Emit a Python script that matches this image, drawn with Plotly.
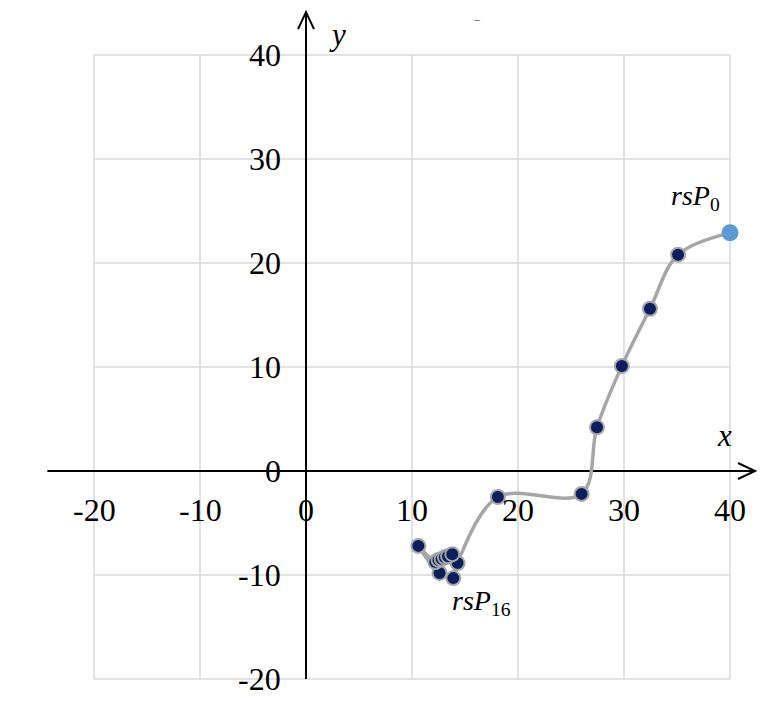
import plotly.graph_objects as go

# ---- data ----
point_names = [f"rsP{i}" for i in range(17)]
x_vals = [40.0, 35.1, 32.45, 29.8, 27.45, 26.0, 18.1, 14.3, 13.9, 12.6, 10.6, 12.2, 12.5, 12.8, 13.1, 13.4, 13.8]
y_vals = [22.9, 20.8, 15.6, 10.1, 4.2, -2.2, -2.5, -8.85, -10.3, -9.8, -7.2, -8.75, -8.55, -8.45, -8.3, -8.2, -8.0]
x_ticks = [-20, -10, 0, 10, 20, 30, 40]
y_ticks = [-20, -10, 0, 10, 20, 30, 40]
x_tick_labels = ["-20", "-10", "0", "10", "20", "30", "40"]
y_tick_labels = ["-20", "-10", "0", "10", "20", "30", "40"]

FONT = "Liberation Serif, Times New Roman, serif"
fig = go.Figure()

# axis lines
X_MIN, X_MAX = -24.4, 42.36
Y_MIN, Y_MAX = -20.0, 44.13

fig.add_trace(go.Scatter(
    x=x_vals, y=y_vals, mode="lines+markers",
    line=dict(color="#A6A6A6", width=3.5, shape="spline", smoothing=1.0),
    marker=dict(size=14, color="#0B1F5E", line=dict(color="#A6A6A6", width=2)),
    hoverinfo="text", text=point_names, showlegend=False, cliponaxis=False,
))
fig.add_trace(go.Scatter(
    x=[x_vals[0]], y=[y_vals[0]], mode="markers",
    marker=dict(size=17, color="#5B9BD5", line=dict(width=0)),
    hoverinfo="text", text=[point_names[0]], showlegend=False, cliponaxis=False,
))

shapes = []
for xt in x_ticks:
    shapes.append(dict(type="line", xref="x", yref="y", x0=xt, x1=xt,
                       y0=min(y_ticks), y1=max(y_ticks),
                       line=dict(color="#D9D9D9", width=1.5), layer="below"))
for yt in y_ticks:
    shapes.append(dict(type="line", xref="x", yref="y", y0=yt, y1=yt,
                       x0=min(x_ticks), x1=max(x_ticks),
                       line=dict(color="#D9D9D9", width=1.5), layer="below"))
shapes.append(dict(type="line", xref="x", yref="y", x0=X_MIN, x1=X_MAX, y0=0, y1=0,
                   line=dict(color="black", width=2), layer="below"))
shapes.append(dict(type="line", xref="x", yref="y", x0=0, x1=0, y0=Y_MIN, y1=Y_MAX,
                   line=dict(color="black", width=2), layer="below"))
# arrowheads (pixel sized chevrons)
shapes.append(dict(type="path", xref="x", yref="y", xsizemode="pixel", ysizemode="pixel",
                   xanchor=X_MAX, yanchor=0, path="M -17 -8 L 0 0 L -17 8",
                   line=dict(color="black", width=2), layer="below"))
shapes.append(dict(type="path", xref="x", yref="y", xsizemode="pixel", ysizemode="pixel",
                   xanchor=0, yanchor=Y_MAX, path="M -8 -17 L 0 0 L 8 -17",
                   line=dict(color="black", width=2), layer="below"))

ann = []
tick_font = dict(family=FONT, size=32, color="black")
for xt, lab in zip(x_ticks, x_tick_labels):
    ann.append(dict(x=xt, y=-3.75, xref="x", yref="y", text=lab, showarrow=False,
                    font=tick_font, xanchor="center", yanchor="middle"))
for yt, lab in zip(y_ticks, y_tick_labels):
    ann.append(dict(x=-2.2, y=yt, xref="x", yref="y", text=lab, showarrow=False,
                    font=tick_font, xanchor="right", yanchor="middle"))
lab_font = dict(family=FONT, size=31, color="black")
ann.append(dict(x=39.5, y=3.46, xref="x", yref="y", text="<i>x</i>", showarrow=False,
                font=lab_font, xanchor="center", yanchor="middle"))
ann.append(dict(x=3.0, y=42.0, xref="x", yref="y", text="<i>y</i>", showarrow=False,
                font=lab_font, xanchor="center", yanchor="middle"))
pt_font = dict(family=FONT, size=28, color="black")
ann.append(dict(x=36.7, y=26.3, xref="x", yref="y", text="<i>rsP</i><sub>0</sub>",
                showarrow=False, font=pt_font, xanchor="center", yanchor="middle"))
ann.append(dict(x=16.6, y=-12.6, xref="x", yref="y", text="<i>rsP</i><sub>16</sub>",
                showarrow=False, font=pt_font, xanchor="center", yanchor="middle"))
ann.append(dict(x=16.1, y=43.5, xref="x", yref="y", text="–", showarrow=False,
                font=dict(family=FONT, size=12, color="#595959"), xanchor="center", yanchor="middle"))

# page body has an 8px offset; ranges compensate so the picture lines up
fig.update_layout(
    width=780, height=710,
    margin=dict(l=0, r=0, t=0, b=0, pad=0),
    paper_bgcolor="white", plot_bgcolor="white",
    xaxis=dict(range=[-28.113, 45.472], visible=False, fixedrange=True),
    yaxis=dict(range=[-23.75, 44.52], visible=False, fixedrange=True),
    shapes=shapes, annotations=ann, showlegend=False,
)
fig.write_html("out.html")
